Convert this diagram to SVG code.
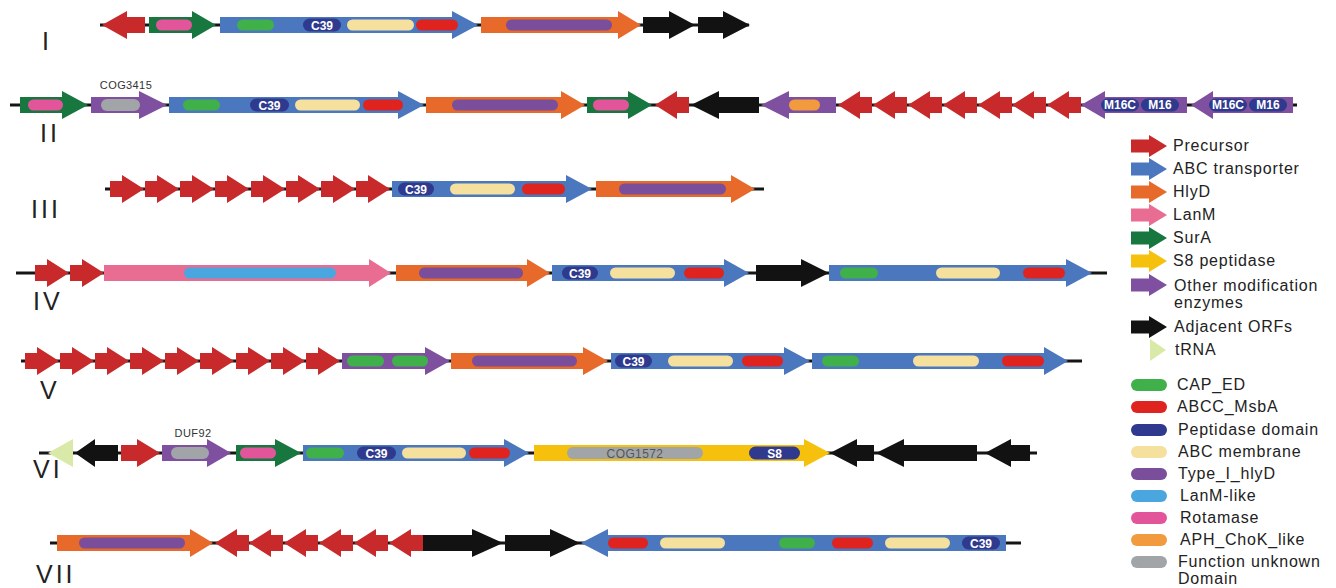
<svg xmlns="http://www.w3.org/2000/svg" xmlns:xlink="http://www.w3.org/1999/xlink" width="1336" height="588" viewBox="0 0 1336 588">
<style>
  text { font-family: "Liberation Sans", Arial, sans-serif; }
  .bb { stroke: #151515; stroke-width: 3; }
  .pre { fill: #c8292b; }
  .abc { fill: #4a77bd; }
  .hly { fill: #e86a2a; }
  .lan { fill: #e96c93; }
  .sur { fill: #18773f; }
  .s8 { fill: #f5c10c; }
  .oth { fill: #7e509f; }
  .adj { fill: #121212; }
  .trna { fill: #d9eaa8; }
  .d-cap { fill: #40b04a; }
  .d-msb { fill: #df2420; }
  .d-pep { fill: #2f3a8e; }
  .d-mem { fill: #f5e09e; }
  .d-hly { fill: #7b4e9c; }
  .d-lanl { fill: #4aa6de; }
  .d-rot { fill: #e3559b; }
  .d-aph { fill: #f19a3e; }
  .d-unk { fill: #a1a5a7; }
  .num { font-size: 25px; fill: #222; letter-spacing: 3px; }
  .dl { font-size: 12px; font-weight: bold; fill: #fff; text-anchor: middle; }
  .cog { font-size: 11px; fill: #333; text-anchor: middle; letter-spacing: 0.4px; }
  .cogin { font-size: 12px; fill: #555; text-anchor: middle; letter-spacing: 0.4px; }
  .lg { font-size: 16px; fill: #222; letter-spacing: 0.8px; }
</style>
<defs>
  <!-- short precursor genes, right- and left-pointing -->
  <polygon id="pr" points="0,-8 12,-8 12,-14 34,0 12,14 12,8 0,8"/>
  <polygon id="pl" points="0,0 22,-14 22,-8 34,-8 34,8 22,8 22,14"/>
  <!-- legend arrow -->
  <polygon id="lga" points="0,-6.5 18,-6.5 18,-11 36,0 18,11 18,6.5 0,6.5"/>
</defs>
<rect width="1336" height="588" fill="#fff"/>

<!-- cluster backbones -->
<g id="connectors">
  <line class="bb" x1="100" y1="25" x2="749" y2="25"/>
  <line class="bb" x1="10" y1="105" x2="1297" y2="105"/>
  <line class="bb" x1="105" y1="189" x2="764" y2="189"/>
  <line class="bb" x1="16" y1="273" x2="1107" y2="273"/>
  <line class="bb" x1="21" y1="361" x2="1082" y2="361"/>
  <line class="bb" x1="39" y1="453" x2="1037" y2="453"/>
  <line class="bb" x1="50" y1="543" x2="1021" y2="543"/>
</g>

<!-- cluster labels -->
<g id="labels">
  <text class="num" x="42" y="50">I</text>
  <text class="num" x="40" y="142">II</text>
  <text class="num" x="31" y="218">III</text>
  <text class="num" x="33" y="310">IV</text>
  <text class="num" x="40" y="399">V</text>
  <text class="num" x="33" y="478">VI</text>
  <text class="num" x="36" y="583">VII</text>
</g>

<!-- cluster I -->
<g id="cluster-I" transform="translate(0,25)">
  <g id="I-pre"><polygon class="pre" points="102,0 127,-14 127,-8 145,-8 145,8 127,8 127,14"/></g>
  <g id="I-surA">
    <polygon class="sur" points="149,-8 192,-8 192,-14 216,0 192,14 192,8 149,8"/>
    <rect class="d-rot" x="156" y="-5.5" width="36" height="11" rx="5.5"/>
  </g>
  <g id="I-abc">
    <polygon class="abc" points="220,-8 452,-8 452,-14 478,0 452,14 452,8 220,8"/>
    <rect class="d-cap" x="237" y="-5.5" width="37" height="11" rx="5.5"/>
    <rect class="d-pep" x="303" y="-6.5" width="38" height="13" rx="6.5"/>
    <text class="dl" x="322" y="4.5">C39</text>
    <rect class="d-mem" x="347" y="-5.5" width="67" height="11" rx="5.5"/>
    <rect class="d-msb" x="416" y="-5.5" width="42" height="11" rx="5.5"/>
  </g>
  <g id="I-hlyD">
    <polygon class="hly" points="481,-8 618,-8 618,-14 641,0 618,14 618,8 481,8"/>
    <rect class="d-hly" x="506" y="-5.5" width="106" height="11" rx="5.5"/>
  </g>
  <g id="I-orf1"><polygon class="adj" points="643,-8 669,-8 669,-14 695,0 669,14 669,8 643,8"/></g>
  <g id="I-orf2"><polygon class="adj" points="698,-8 723,-8 723,-14 750,0 723,14 723,8 698,8"/></g>
</g>

<!-- cluster II -->
<g id="cluster-II" transform="translate(0,105)">
  <g id="II-surA1">
    <polygon class="sur" points="20,-8 62,-8 62,-14 88,0 62,14 62,8 20,8"/>
    <rect class="d-rot" x="28" y="-5.5" width="35" height="11" rx="5.5"/>
  </g>
  <g id="II-cog3415">
    <polygon class="oth" points="91,-8 139,-8 139,-14 167,0 139,14 139,8 91,8"/>
    <rect class="d-unk" x="101" y="-6" width="39" height="12" rx="6"/>
    <text class="cog" x="126" y="-16">COG3415</text>
  </g>
  <g id="II-abc">
    <polygon class="abc" points="169,-8 398,-8 398,-14 424,0 398,14 398,8 169,8"/>
    <rect class="d-cap" x="183" y="-5.5" width="37" height="11" rx="5.5"/>
    <rect class="d-pep" x="250" y="-6.5" width="39" height="13" rx="6.5"/>
    <text class="dl" x="269.5" y="4.5">C39</text>
    <rect class="d-mem" x="295" y="-5.5" width="65" height="11" rx="5.5"/>
    <rect class="d-msb" x="363" y="-5.5" width="40" height="11" rx="5.5"/>
  </g>
  <g id="II-hlyD">
    <polygon class="hly" points="426,-8 561,-8 561,-14 585,0 561,14 561,8 426,8"/>
    <rect class="d-hly" x="452" y="-5.5" width="106" height="11" rx="5.5"/>
  </g>
  <g id="II-surA2">
    <polygon class="sur" points="587,-8 628,-8 628,-14 652,0 628,14 628,8 587,8"/>
    <rect class="d-rot" x="593" y="-5.5" width="36" height="11" rx="5.5"/>
  </g>
  <g id="II-pre1"><use href="#pl" x="655" class="pre"/></g>
  <g id="II-orf"><polygon class="adj" points="691,0 719,-14 719,-8 759,-8 759,8 719,8 719,14"/></g>
  <g id="II-aph">
    <polygon class="oth" points="761,0 789,-14 789,-8 836,-8 836,8 789,8 789,14"/>
    <rect class="d-aph" x="789" y="-5.5" width="31" height="11" rx="5.5"/>
  </g>
  <g id="II-pre2">
    <use href="#pl" x="838" class="pre"/>
    <use href="#pl" x="873" class="pre"/>
    <use href="#pl" x="908" class="pre"/>
    <use href="#pl" x="943" class="pre"/>
    <use href="#pl" x="978" class="pre"/>
    <use href="#pl" x="1012" class="pre"/>
    <use href="#pl" x="1047" class="pre"/>
  </g>
  <g id="II-m16a">
    <polygon class="oth" points="1081,0 1105,-14 1105,-8 1187,-8 1187,8 1105,8 1105,14"/>
    <rect class="d-pep" x="1101" y="-6.5" width="38" height="13" rx="6.5"/>
    <text class="dl" x="1120" y="4" font-size="11">M16C</text>
    <rect class="d-pep" x="1141" y="-6.5" width="38" height="13" rx="6.5"/>
    <text class="dl" x="1160" y="4" font-size="11">M16</text>
  </g>
  <g id="II-m16b">
    <polygon class="oth" points="1191,0 1213,-14 1213,-8 1293,-8 1293,8 1213,8 1213,14"/>
    <rect class="d-pep" x="1209" y="-6.5" width="38" height="13" rx="6.5"/>
    <text class="dl" x="1228" y="4" font-size="11">M16C</text>
    <rect class="d-pep" x="1249" y="-6.5" width="38" height="13" rx="6.5"/>
    <text class="dl" x="1268" y="4" font-size="11">M16</text>
  </g>
</g>

<!-- cluster III -->
<g id="cluster-III" transform="translate(0,189)">
  <g id="III-pre">
    <use href="#pr" x="110" class="pre"/>
    <use href="#pr" x="145" class="pre"/>
    <use href="#pr" x="180" class="pre"/>
    <use href="#pr" x="215" class="pre"/>
    <use href="#pr" x="251" class="pre"/>
    <use href="#pr" x="286" class="pre"/>
    <use href="#pr" x="321" class="pre"/>
    <use href="#pr" x="356" class="pre"/>
  </g>
  <g id="III-abc">
    <polygon class="abc" points="392,-8 566,-8 566,-14 592,0 566,14 566,8 392,8"/>
    <rect class="d-pep" x="398" y="-6.5" width="36" height="13" rx="6.5"/>
    <text class="dl" x="416" y="4.5">C39</text>
    <rect class="d-mem" x="450" y="-5.5" width="65" height="11" rx="5.5"/>
    <rect class="d-msb" x="522" y="-5.5" width="43" height="11" rx="5.5"/>
  </g>
  <g id="III-hlyD">
    <polygon class="hly" points="596,-8 731,-8 731,-14 755,0 731,14 731,8 596,8"/>
    <rect class="d-hly" x="619" y="-5.5" width="107" height="11" rx="5.5"/>
  </g>
</g>

<!-- cluster IV -->
<g id="cluster-IV" transform="translate(0,273)">
  <g id="IV-pre">
    <use href="#pr" x="35" class="pre"/>
    <use href="#pr" x="70" class="pre"/>
  </g>
  <g id="IV-lanM">
    <polygon class="lan" points="104,-8 369,-8 369,-14 391,0 369,14 369,8 104,8"/>
    <rect class="d-lanl" x="184" y="-5.5" width="152" height="11" rx="5.5"/>
  </g>
  <g id="IV-hlyD">
    <polygon class="hly" points="396,-8 527,-8 527,-14 550,0 527,14 527,8 396,8"/>
    <rect class="d-hly" x="419" y="-5.5" width="104" height="11" rx="5.5"/>
  </g>
  <g id="IV-abc1">
    <polygon class="abc" points="552,-8 724,-8 724,-14 749,0 724,14 724,8 552,8"/>
    <rect class="d-pep" x="562" y="-6.5" width="36" height="13" rx="6.5"/>
    <text class="dl" x="580" y="4.5">C39</text>
    <rect class="d-mem" x="610" y="-5.5" width="65" height="11" rx="5.5"/>
    <rect class="d-msb" x="684" y="-5.5" width="40" height="11" rx="5.5"/>
  </g>
  <g id="IV-orf"><polygon class="adj" points="756,-8 801,-8 801,-14 829,0 801,14 801,8 756,8"/></g>
  <g id="IV-abc2">
    <polygon class="abc" points="829,-8 1066,-8 1066,-14 1092,0 1066,14 1066,8 829,8"/>
    <rect class="d-cap" x="840" y="-5.5" width="38" height="11" rx="5.5"/>
    <rect class="d-mem" x="936" y="-5.5" width="64" height="11" rx="5.5"/>
    <rect class="d-msb" x="1023" y="-5.5" width="42" height="11" rx="5.5"/>
  </g>
</g>

<!-- cluster V -->
<g id="cluster-V" transform="translate(0,361)">
  <g id="V-pre">
    <use href="#pr" x="25" class="pre"/>
    <use href="#pr" x="60" class="pre"/>
    <use href="#pr" x="95" class="pre"/>
    <use href="#pr" x="130" class="pre"/>
    <use href="#pr" x="165" class="pre"/>
    <use href="#pr" x="200" class="pre"/>
    <use href="#pr" x="236" class="pre"/>
    <use href="#pr" x="271" class="pre"/>
    <use href="#pr" x="306" class="pre"/>
  </g>
  <g id="V-mod">
    <polygon class="oth" points="342,-8 425,-8 425,-14 450,0 425,14 425,8 342,8"/>
    <rect class="d-cap" x="347" y="-5.5" width="37" height="11" rx="5.5"/>
    <rect class="d-cap" x="392" y="-5.5" width="36" height="11" rx="5.5"/>
  </g>
  <g id="V-hlyD">
    <polygon class="hly" points="451,-8 583,-8 583,-14 608,0 583,14 583,8 451,8"/>
    <rect class="d-hly" x="472" y="-5.5" width="105" height="11" rx="5.5"/>
  </g>
  <g id="V-abc1">
    <polygon class="abc" points="611,-8 784,-8 784,-14 810,0 784,14 784,8 611,8"/>
    <rect class="d-pep" x="615" y="-6.5" width="37" height="13" rx="6.5"/>
    <text class="dl" x="633.5" y="4.5">C39</text>
    <rect class="d-mem" x="668" y="-5.5" width="65" height="11" rx="5.5"/>
    <rect class="d-msb" x="742" y="-5.5" width="41" height="11" rx="5.5"/>
  </g>
  <g id="V-abc2">
    <polygon class="abc" points="812,-8 1044,-8 1044,-14 1068,0 1044,14 1044,8 812,8"/>
    <rect class="d-cap" x="822" y="-5.5" width="37" height="11" rx="5.5"/>
    <rect class="d-mem" x="913" y="-5.5" width="66" height="11" rx="5.5"/>
    <rect class="d-msb" x="1002" y="-5.5" width="42" height="11" rx="5.5"/>
  </g>
</g>

<!-- cluster VI -->
<g id="cluster-VI" transform="translate(0,453)">
  <g id="VI-trna"><polygon class="trna" points="48,0 73,-14 73,14"/></g>
  <g id="VI-orf1"><polygon class="adj" points="75,0 95,-14 95,-8 118,-8 118,8 95,8 95,14"/></g>
  <g id="VI-pre"><polygon class="pre" points="121,-8 137,-8 137,-14 160,0 137,14 137,8 121,8"/></g>
  <g id="VI-duf92">
    <polygon class="oth" points="162,-8 207,-8 207,-14 231,0 207,14 207,8 162,8"/>
    <rect class="d-unk" x="171" y="-6" width="38" height="12" rx="6"/>
    <text class="cog" x="193" y="-16">DUF92</text>
  </g>
  <g id="VI-surA">
    <polygon class="sur" points="236,-8 275,-8 275,-14 301,0 275,14 275,8 236,8"/>
    <rect class="d-rot" x="240" y="-5.5" width="36" height="11" rx="5.5"/>
  </g>
  <g id="VI-abc">
    <polygon class="abc" points="303,-8 504,-8 504,-14 529,0 504,14 504,8 303,8"/>
    <rect class="d-cap" x="306" y="-5.5" width="38" height="11" rx="5.5"/>
    <rect class="d-pep" x="357" y="-6.5" width="39" height="13" rx="6.5"/>
    <text class="dl" x="376.5" y="4.5">C39</text>
    <rect class="d-mem" x="402" y="-5.5" width="64" height="11" rx="5.5"/>
    <rect class="d-msb" x="469" y="-5.5" width="41" height="11" rx="5.5"/>
  </g>
  <g id="VI-s8">
    <polygon class="s8" points="534,-8 804,-8 804,-14 830,0 804,14 804,8 534,8"/>
    <rect class="d-unk" x="567" y="-6" width="136" height="12" rx="6"/>
    <text class="cogin" x="635" y="4.5">COG1572</text>
    <rect class="d-pep" x="749" y="-6.5" width="51" height="13" rx="6.5"/>
    <text class="dl" x="774.5" y="4.5">S8</text>
  </g>
  <g id="VI-orf2"><polygon class="adj" points="830,0 857,-14 857,-8 874,-8 874,8 857,8 857,14"/></g>
  <g id="VI-orf3"><polygon class="adj" points="876,0 904,-14 904,-8 977,-8 977,8 904,8 904,14"/></g>
  <g id="VI-orf4"><polygon class="adj" points="985,0 1011,-14 1011,-8 1030,-8 1030,8 1011,8 1011,14"/></g>
</g>

<!-- cluster VII -->
<g id="cluster-VII" transform="translate(0,543)">
  <g id="VII-hlyD">
    <polygon class="hly" points="57,-8 190,-8 190,-14 213,0 190,14 190,8 57,8"/>
    <rect class="d-hly" x="79" y="-5.5" width="106" height="11" rx="5.5"/>
  </g>
  <g id="VII-pre">
    <use href="#pl" x="215" class="pre"/>
    <use href="#pl" x="249" class="pre"/>
    <use href="#pl" x="284" class="pre"/>
    <use href="#pl" x="319" class="pre"/>
    <use href="#pl" x="354" class="pre"/>
    <use href="#pl" x="389" class="pre"/>
  </g>
  <g id="VII-orf1"><polygon class="adj" points="423,-8 472,-8 472,-14 503,0 472,14 472,8 423,8"/></g>
  <g id="VII-orf2"><polygon class="adj" points="505,-8 550,-8 550,-14 580,0 550,14 550,8 505,8"/></g>
  <g id="VII-abc">
    <polygon class="abc" points="581,0 608,-14 608,-8 1006,-8 1006,8 608,8 608,14"/>
    <rect class="d-msb" x="608" y="-5.5" width="40" height="11" rx="5.5"/>
    <rect class="d-mem" x="660" y="-5.5" width="65" height="11" rx="5.5"/>
    <rect class="d-cap" x="779" y="-5.5" width="36" height="11" rx="5.5"/>
    <rect class="d-msb" x="832" y="-5.5" width="41" height="11" rx="5.5"/>
    <rect class="d-mem" x="885" y="-5.5" width="65" height="11" rx="5.5"/>
    <rect class="d-pep" x="962" y="-6.5" width="38" height="13" rx="6.5"/>
    <text class="dl" x="981" y="4.5">C39</text>
  </g>
</g>

<!-- legend: gene classes -->
<g id="legend-genes">
  <use href="#lga" x="1131" y="146" class="pre"/><text class="lg" x="1173" y="151">Precursor</text>
  <use href="#lga" x="1131" y="169" class="abc"/><text class="lg" x="1173" y="174">ABC transporter</text>
  <use href="#lga" x="1131" y="192" class="hly"/><text class="lg" x="1173" y="197">HlyD</text>
  <use href="#lga" x="1131" y="215" class="lan"/><text class="lg" x="1173" y="220">LanM</text>
  <use href="#lga" x="1131" y="238" class="sur"/><text class="lg" x="1173" y="243">SurA</text>
  <use href="#lga" x="1131" y="261" class="s8"/><text class="lg" x="1173" y="266">S8 peptidase</text>
  <use href="#lga" x="1131" y="285" class="oth"/><text class="lg" x="1174" y="291">Other modification</text>
  <text class="lg" x="1174" y="308">enzymes</text>
  <use href="#lga" x="1131" y="327" class="adj"/><text class="lg" x="1174" y="332">Adjacent ORFs</text>
  <polygon class="trna" points="1150,339 1166,350 1150,361"/><text class="lg" x="1175" y="355">tRNA</text>
</g>

<!-- legend: domains -->
<g id="legend-domains">
  <rect class="d-cap" x="1131" y="379" width="36" height="12" rx="6"/><text class="lg" x="1177" y="390">CAP_ED</text>
  <rect class="d-msb" x="1131" y="401" width="36" height="12" rx="6"/><text class="lg" x="1177" y="412">ABCC_MsbA</text>
  <rect class="d-pep" x="1131" y="424" width="36" height="12" rx="6"/><text class="lg" x="1178" y="435">Peptidase domain</text>
  <rect class="d-mem" x="1131" y="446" width="36" height="12" rx="6"/><text class="lg" x="1178" y="457">ABC membrane</text>
  <rect class="d-hly" x="1131" y="468" width="36" height="12" rx="6"/><text class="lg" x="1178" y="479">Type_I_hlyD</text>
  <rect class="d-lanl" x="1131" y="490" width="36" height="12" rx="6"/><text class="lg" x="1180" y="501">LanM-like</text>
  <rect class="d-rot" x="1131" y="512" width="36" height="12" rx="6"/><text class="lg" x="1180" y="523">Rotamase</text>
  <rect class="d-aph" x="1131" y="534" width="36" height="12" rx="6"/><text class="lg" x="1180" y="545">APH_ChoK_like</text>
  <rect class="d-unk" x="1131" y="556" width="36" height="12" rx="6"/><text class="lg" x="1178" y="567">Function unknown</text>
  <text class="lg" x="1178" y="584">Domain</text>
</g>
</svg>
